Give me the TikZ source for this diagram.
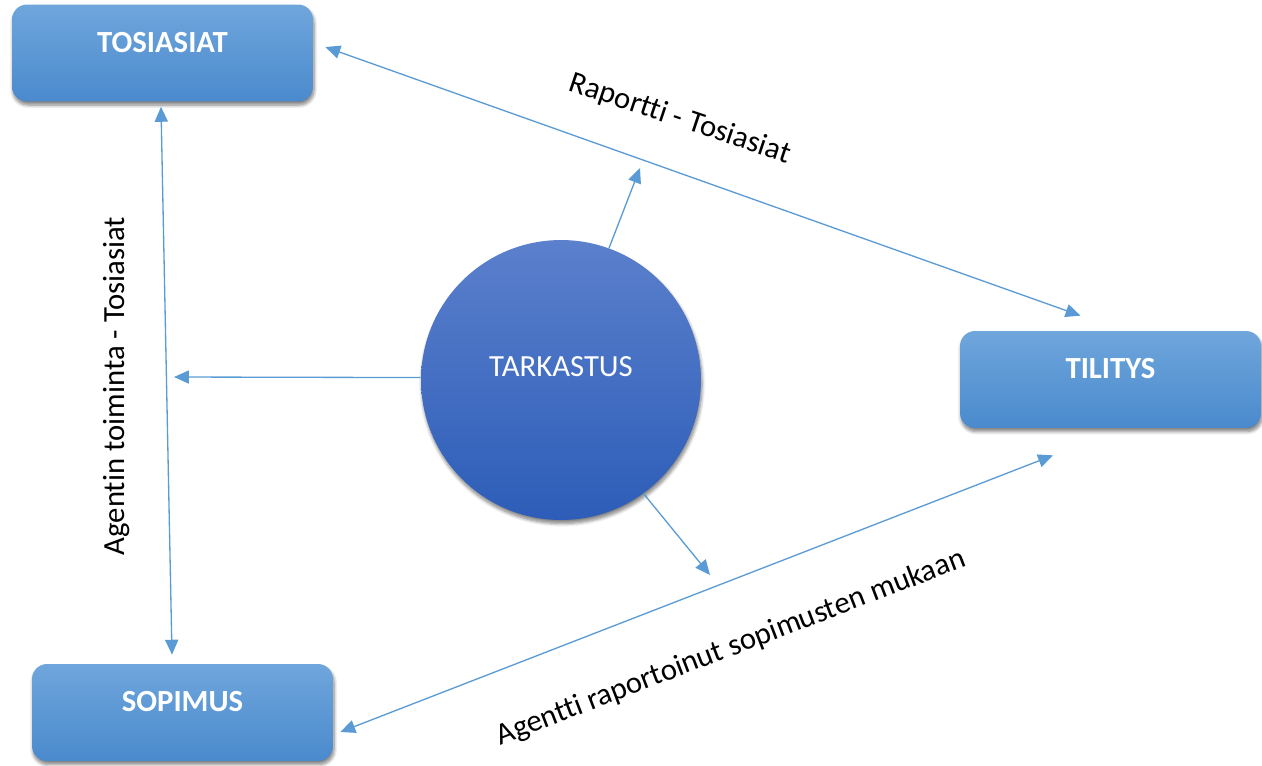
\documentclass[tikz,border=0pt]{standalone}
\usepackage{fontspec}
\setmainfont{Carlito}[Ligatures={NoCommon}]
\usepackage{tikz}
\usetikzlibrary{calc}
\usetikzlibrary{arrows.meta}
\usetikzlibrary{shadows.blur}
\usepackage{xcolor}

\definecolor{boxtop}{HTML}{6FA6DC}
\definecolor{boxbot}{HTML}{4A8ACD}
\definecolor{circtop}{HTML}{5B80CC}
\definecolor{circbot}{HTML}{2D5DB8}
\definecolor{linkblue}{HTML}{5B9BD5}

\begin{document}
\begin{tikzpicture}[x=0.02cm, y=-0.02cm,
  >={Triangle[width=7.5pt, length=8.5pt]},
  box/.style={rectangle, rounded corners=0.3cm, top color=boxtop, bottom color=boxbot,
    minimum width=6.02cm, minimum height=1.94cm, text=white,
    font=\fontsize{17.5}{21}\selectfont\bfseries, text height=0.45cm, text depth=0.49cm,
    blur shadow={shadow xshift=0.6pt, shadow yshift=-2pt, shadow opacity=50, shadow blur steps=6}},
  bigcirc/.style={circle, inner sep=0, minimum size=5.6cm, top color=circtop, bottom color=circbot,
    text=white, font=\fontsize{17.5}{21}\selectfont, text height=0.45cm, text depth=0.59cm,
    blur shadow={shadow xshift=0.6pt, shadow yshift=-2pt, shadow opacity=50, shadow blur steps=6}},
  link/.style={draw=linkblue, line width=0.75pt},
  lbl/.style={font=\fontsize{17.5}{21}\selectfont, inner sep=0}]

\useasboundingbox (0,0) rectangle (1262,765);

\node[box] (tos) at (162.5,53) {TOSIASIAT};
\node[box] (til) at (1110.5,379.5) {TILITYS};
\node[box] (sop) at (182.5,712.5) {SOPIMUS};
\node[bigcirc] (tar) at (561,380) {TARKASTUS};

\coordinate (left) at (174,377);
\coordinate (up) at (640,168);
\coordinate (down) at (710,575);

\draw[link, <->] ($(tos.south)+(-1.5,5)$) -- ($(sop.north)+(-10.5,-9)$);
\draw[link, <->] ($(tos.east)+(12,-6)$) -- ($(til.north)+(-30,-15)$);
\draw[link, <->] ($(sop.east)+(7,19.5)$) -- ($(til.south)+(-57.5,27)$);
\draw[link, ->] (tar.179) -- (left);
\draw[link, ->] (tar.70) -- (up);
\draw[link, ->] (tar.-54) -- (down);

\node[lbl, rotate=-18.5] (raplbl) at (680,119) {Raportti - Tosiasiat};
\node[lbl, rotate=90] (agelbl) at (117,386) {Agentin toiminta - Tosiasiat};
\node[lbl, rotate=21] (soplbl) at (731,648) {Agentti raportoinut sopimusten mukaan};

\end{tikzpicture}
\end{document}
